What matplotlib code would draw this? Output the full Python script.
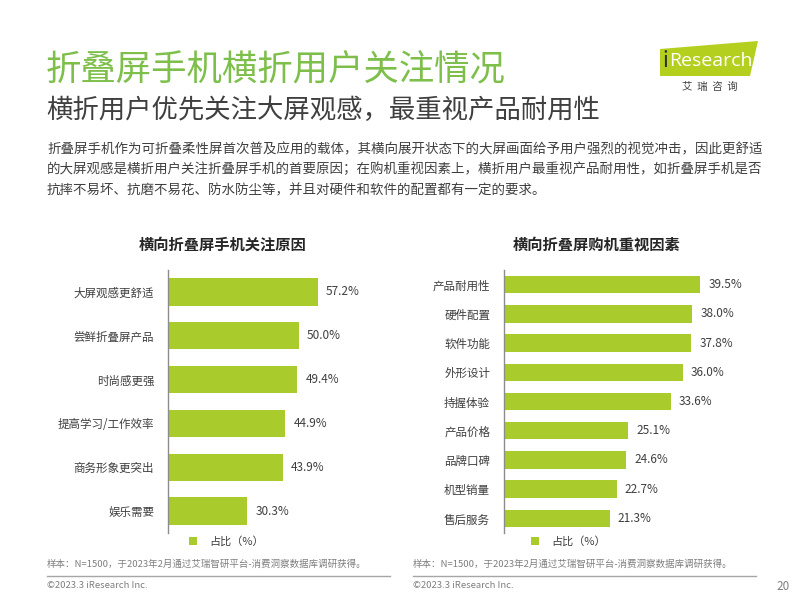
import matplotlib
matplotlib.use("Agg")
import matplotlib.pyplot as plt
from matplotlib.patches import Polygon, Rectangle

plt.rcParams['font.family'] = ['Noto Sans CJK SC', 'DejaVu Sans']

# ---- data ----
left_title = "横向折叠屏手机关注原因"
left_cats = ["大屏观感更舒适", "尝鲜折叠屏产品", "时尚感更强", "提高学习/工作效率", "商务形象更突出", "娱乐需要"]
left_vals = [57.2, 50.0, 49.4, 44.9, 43.9, 30.3]

right_title = "横向折叠屏购机重视因素"
right_cats = ["产品耐用性", "硬件配置", "软件功能", "外形设计", "持握体验", "产品价格", "品牌口碑", "机型销量", "售后服务"]
right_vals = [39.5, 38.0, 37.8, 36.0, 33.6, 25.1, 24.6, 22.7, 21.3]

legend_label = "占比（%）"
source_text = "样本：N=1500，于2023年2月通过艾瑞智研平台-消费洞察数据库调研获得。"
footer_text = "©2023.3 iResearch Inc."
page_no = "20"

main_title = "折叠屏手机横折用户关注情况"
sub_title = "横折用户优先关注大屏观感，最重视产品耐用性"
body_lines = [
    "折叠屏手机作为可折叠柔性屏首次普及应用的载体，其横向展开状态下的大屏画面给予用户强烈的视觉冲击，因此更舒适",
    "的大屏观感是横折用户关注折叠屏手机的首要原因；在购机重视因素上，横折用户最重视产品耐用性，如折叠屏手机是否",
    "抗摔不易坏、抗磨不易花、防水防尘等，并且对硬件和软件的配置都有一定的要求。",
]

BAR = "#A9CB2B"
TITLE_GREEN = "#7DBF4A"
DARK = "#3f3f3f"
GRAY = "#7f7f7f"

W, H = 800, 600
fig = plt.figure(figsize=(8, 6), dpi=100)
fig.patch.set_facecolor("white")

def fx(x):
    return x / W

def fy(y):
    return 1 - y / H

def px_axes(left, top, right, bottom):
    return fig.add_axes([fx(left), fy(bottom), (right - left) / W, (bottom - top) / H])

# ---- header ----
fig.text(fx(46), fy(70), main_title, fontsize=25.5, color=TITLE_GREEN, va="center", ha="left",
         fontweight="light")
fig.text(fx(46), fy(110), sub_title, fontsize=19, color=DARK, va="center", ha="left",
         fontweight="light")
for i, line in enumerate(body_lines):
    fig.text(fx(47), fy(149 + i * 20.5), line, fontsize=9.7, color=DARK, va="center", ha="left")

# logo
poly = Polygon([[fx(660), fy(49)], [fx(758), fy(41)], [fx(750), fy(76)], [fx(660), fy(76)]],
               closed=True, transform=fig.transFigure, facecolor="#B5CF1E", edgecolor="none")
fig.patches.append(poly)
fig.text(fx(662), fy(61), "i", fontsize=15, color="#2b2b2b", va="center", ha="left")
fig.text(fx(669), fy(61), "Research", fontsize=14, color="white", va="center", ha="left",
         family=['Open Sans', 'DejaVu Sans'])
fig.text(fx(710), fy(87), "艾  瑞  咨  询", fontsize=7.5, color=DARK, va="center", ha="center")


def draw_chart(left, right, top, bottom, cats, vals, xmax, height, title, title_x, leg_x):
    ax = px_axes(left, top, right, bottom)
    n = len(cats)
    ys = list(range(n))
    ax.barh(ys, vals, height=height, color=BAR)
    ax.set_ylim(n - 0.5, -0.5)
    ax.set_xlim(0, xmax)
    ax.set_yticks(ys)
    ax.set_yticklabels(cats, fontsize=8.3, color=DARK)
    ax.tick_params(axis="y", length=0, pad=10)
    ax.set_xticks([])
    for s in ["top", "right", "bottom"]:
        ax.spines[s].set_visible(False)
    ax.spines["left"].set_color("#8c8c8c")
    ax.spines["left"].set_linewidth(1.0)
    for y, v in zip(ys, vals):
        ax.annotate(f"{v:.1f}%", (v, y), xytext=(6, 0), textcoords="offset points",
                    va="center", ha="left", fontsize=8.5, color=DARK)
    fig.text(fx(title_x), fy(245), title, fontsize=11, fontweight="bold", color="#262626",
             ha="center", va="center")
    fig.patches.append(Rectangle((fx(leg_x - 4), fy(545)), 8 / W, 8 / H,
                                 transform=fig.transFigure, facecolor=BAR, edgecolor="none"))
    fig.text(fx(leg_x + 16), fy(541), legend_label, fontsize=8, color=DARK, ha="left", va="center")
    return ax

draw_chart(168, 351, 270, 533, left_cats, left_vals, 70, 0.62, left_title, 223, 193)
draw_chart(504, 752, 270, 533, right_cats, right_vals, 50, 0.6, right_title, 597, 535)

# source & footer
fig.text(fx(47), fy(564), source_text, fontsize=6.8, color=GRAY, ha="left", va="center")
fig.text(fx(413), fy(564), source_text, fontsize=6.8, color=GRAY, ha="left", va="center")
fig.add_artist(plt.Line2D([fx(47), fx(390)], [fy(576), fy(576)], color="#a6a6a6", lw=1,
                          transform=fig.transFigure))
fig.add_artist(plt.Line2D([fx(413), fx(756)], [fy(576), fy(576)], color="#a6a6a6", lw=1,
                          transform=fig.transFigure))
fig.text(fx(47), fy(586), footer_text, fontsize=6.8, color=GRAY, ha="left", va="center")
fig.text(fx(413), fy(586), footer_text, fontsize=6.8, color=GRAY, ha="left", va="center")
fig.text(fx(790), fy(586), page_no, fontsize=8.5, color=GRAY, ha="right", va="center")

fig.savefig("out.png", dpi=100, facecolor="white")
